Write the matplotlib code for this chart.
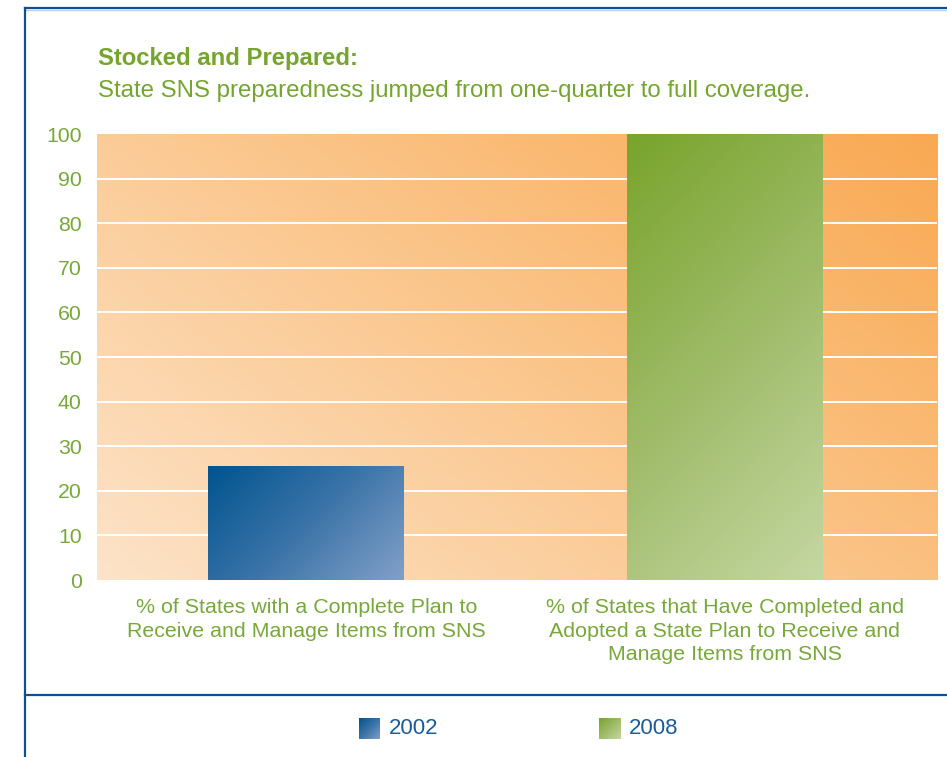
import numpy as np
import matplotlib
matplotlib.use("Agg")
import matplotlib.pyplot as plt
from matplotlib.colors import LinearSegmentedColormap
from matplotlib.lines import Line2D

plt.rcParams['font.family'] = ['Liberation Sans', 'DejaVu Sans']

# data
categories = [
    "% of States with a Complete Plan to\nReceive and Manage Items from SNS",
    "% of States that Have Completed and\nAdopted a State Plan to Receive and\nManage Items from SNS",
]
years = ["2002", "2008"]
values = [25.6, 100]
yticks = [0, 10, 20, 30, 40, 50, 60, 70, 80, 90, 100]

green_text = "#78a83a"
navy = "#0d5193"

bg_cmap = LinearSegmentedColormap.from_list("bg", ["#fde3c8", "#fbc68c", "#f9a952"])
bar_cmaps = [
    LinearSegmentedColormap.from_list("blue", ["#00548f", "#3a73a8", "#82a0c8"]),
    LinearSegmentedColormap.from_list("green", ["#78a42c", "#9fbb68", "#c4d7a2"]),
]


def diag(w_px, h_px, n=200):
    """Diagonal ramp 0..1 from top-left to bottom-right of a box of the given pixel size."""
    u = np.linspace(0, 1, n)[None, :]          # left -> right
    v = np.linspace(0, 1, n)[:, None]          # top -> bottom (image rows)
    return (u * w_px + v * h_px) / (w_px + h_px)


fig = plt.figure(figsize=(9.47, 7.57), dpi=100)
W, H = 947, 757
XLIM = (-0.5, 1.507)
ax = fig.add_axes([97 / W, 1 - 580 / H, 840 / W, 446 / H])

# orange backdrop, light at bottom-left, strong at top-right
bg = 0.6 * np.linspace(0, 1, 200)[None, :] + 0.4 * np.linspace(1, 0, 200)[:, None]
ax.imshow(bg, cmap=bg_cmap, extent=[XLIM[0], XLIM[1], 0, 100], aspect="auto",
          zorder=0, vmin=0, vmax=1, interpolation="bilinear")

for yv in yticks[1:-1]:
    ax.axhline(yv, color="white", lw=1.4, zorder=1)

x = np.arange(len(categories))
bars = ax.bar(x, values, width=0.468, color="none", zorder=2)

# fill each bar with its own gradient
for patch, cmap in zip(bars, bar_cmaps):
    bx, by = patch.get_x(), patch.get_y()
    bw, bh = patch.get_width(), patch.get_height()
    w_px = bw / (XLIM[1] - XLIM[0]) * 840
    h_px = bh / 100.0 * 446
    im = ax.imshow(diag(w_px, h_px), cmap=cmap, extent=[bx, bx + bw, by, by + bh],
                   aspect="auto", zorder=3, vmin=0, vmax=1, interpolation="bilinear")
    im.set_clip_path(patch)

ax.set_xlim(*XLIM)
ax.set_ylim(0, 100)
for s in ax.spines.values():
    s.set_visible(False)

ax.set_yticks(yticks)
ax.set_yticklabels([str(t) for t in yticks], fontsize=15.3, color=green_text)
ax.set_xticks(x)
ax.set_xticklabels(categories, fontsize=15.4, color=green_text, linespacing=1.31, va="top")
ax.tick_params(axis="y", length=0, pad=11)
ax.tick_params(axis="x", length=0, pad=13)

# headings
fig.text(98 / W, 1 - 58 / H, "Stocked and Prepared:", fontsize=17.2, fontweight="bold",
         color="#76a52f", va="center", ha="left")
fig.text(98 / W, 1 - 91 / H, "State SNS preparedness jumped from one-quarter to full coverage.",
         fontsize=17.3, color="#76a52f", va="center", ha="left")

# frame lines
fig.add_artist(Line2D([25 / W, 1], [1 - 8 / H, 1 - 8 / H], color=navy, lw=1.6))
fig.add_artist(Line2D([25 / W, 1], [1 - 9.5 / H, 1 - 9.5 / H], color="#b9d0e6", lw=1.0))
fig.add_artist(Line2D([25 / W, 25 / W], [0, 1 - 8 / H], color=navy, lw=1.6))
fig.add_artist(Line2D([25 / W, 1], [1 - 695 / H, 1 - 695 / H], color=navy, lw=1.6))

# legend
leg_x = [359, 599]
for lx, year, cmap in zip(leg_x, years, bar_cmaps):
    lax = fig.add_axes([lx / W, 1 - 739 / H, 21 / W, 21 / H])
    lax.imshow(diag(21, 21), cmap=cmap, aspect="auto", vmin=0, vmax=1,
               interpolation="bilinear", extent=[0, 1, 0, 1])
    lax.set_axis_off()
    fig.text((lx + 30) / W, 1 - 729 / H, year, fontsize=16, color="#1a5c98",
             va="center", ha="left")

fig.savefig("out.png", dpi=100)
